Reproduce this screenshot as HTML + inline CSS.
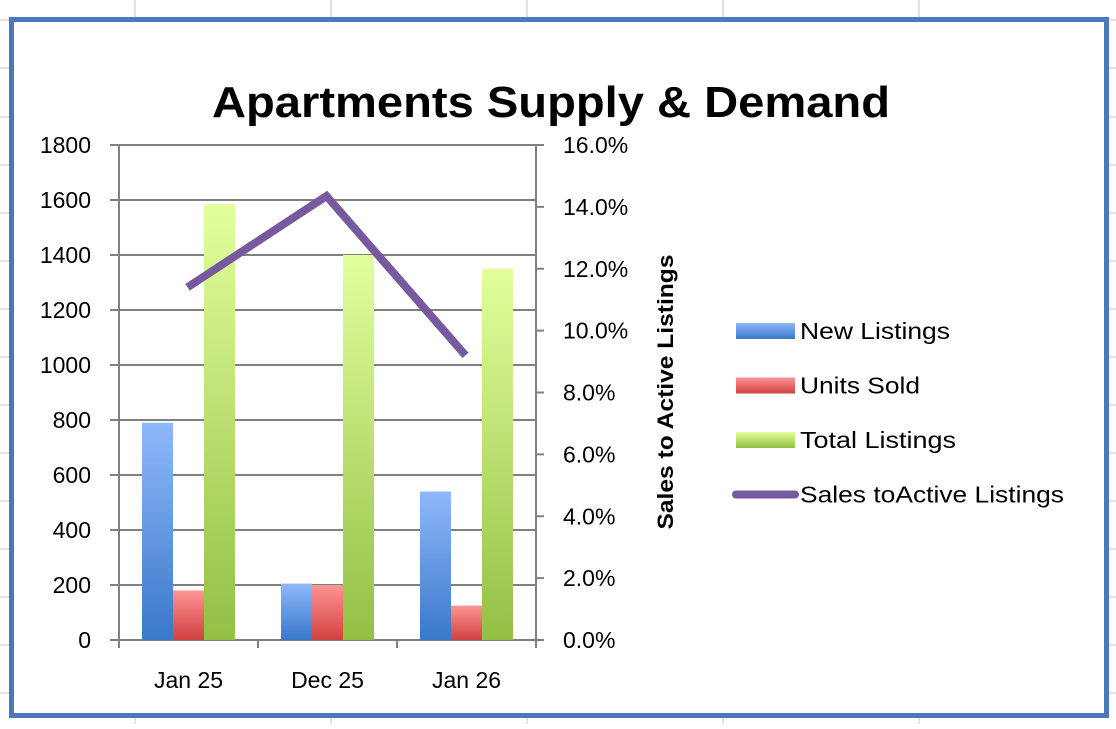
<!DOCTYPE html>
<html><head><meta charset="utf-8"><style>
body{margin:0;width:1116px;height:724px;overflow:hidden;background:#fff;font-family:"Liberation Sans",Calibri,sans-serif}
</style></head><body>
<svg id="c" width="1116" height="724" xmlns="http://www.w3.org/2000/svg">
<defs>
<linearGradient id="gb" x1="0" y1="0" x2="0" y2="1"><stop offset="0" stop-color="#8fb8fb"/><stop offset="1" stop-color="#3a78c9"/></linearGradient>
<linearGradient id="gr" x1="0" y1="0" x2="0" y2="1"><stop offset="0" stop-color="#ff9494"/><stop offset="1" stop-color="#d0413f"/></linearGradient>
<linearGradient id="gg" x1="0" y1="0" x2="0" y2="1"><stop offset="0" stop-color="#e2ff9c"/><stop offset="1" stop-color="#93c045"/></linearGradient>
</defs>
<g id="sheet" stroke="#d9d9d9" stroke-width="1.5"></g>
<rect x="11.5" y="19.5" width="1095" height="696" fill="#fff" stroke="#4a78b8" stroke-width="5"/>
<text x="551" y="117" text-anchor="middle" font-size="44" font-weight="bold" textLength="678" lengthAdjust="spacingAndGlyphs">Apartments Supply &amp; Demand</text>
<g id="plot"></g>
<text transform="translate(673,392) rotate(-90)" text-anchor="middle" font-size="22" font-weight="bold" textLength="275" lengthAdjust="spacingAndGlyphs">Sales to Active Listings</text>
<g id="legend"></g>
</svg>
<script>
const categories=["Jan 25","Dec 25","Jan 26"];
const newListings=[790,205,540];
const unitsSold=[180,200,125];
const totalListings=[1585,1400,1350];
const salesRatio=[11.4,14.35,9.2];
const leftTicks=[0,200,400,600,800,1000,1200,1400,1600,1800];
const rightTicks=["0.0%","2.0%","4.0%","6.0%","8.0%","10.0%","12.0%","14.0%","16.0%"];
const NS="http://www.w3.org/2000/svg";
function mk(p,t,a){const e=document.createElementNS(NS,t);for(const k in a)e.setAttribute(k,a[k]);p.appendChild(e);return e;}
const sheet=document.getElementById('sheet');
[135,331,527,723,919].forEach(x=>mk(sheet,'line',{x1:x,y1:0,x2:x,y2:724}));
[20,68,117,165,213,261,309,357,405,453,501,549,597,645,693].forEach(y=>mk(sheet,'line',{x1:0,y1:y,x2:1116,y2:y}));
const L=119,R=536,T=145,B=640;
const yL=v=>B-(v/1800)*(B-T);
const yR=v=>B-(v/16)*(B-T);
const gw=(R-L)/categories.length;
const plot=document.getElementById('plot');
leftTicks.forEach(v=>{
 const g=mk(plot,'line',{x1:110,y1:yL(v),x2:R,y2:yL(v),stroke:'#808080','stroke-width':2});
 
 
 const t=mk(plot,'text',{x:91,y:yL(v)+8,'text-anchor':'end','font-size':23});
 t.textContent=v;
 
 
});
rightTicks.forEach((s,i)=>{
 mk(plot,'line',{x1:R,y1:yR(i*2),x2:R+8,y2:yR(i*2),stroke:'#808080','stroke-width':2});
 const t=mk(plot,'text',{x:563,y:yR(i*2)+8,'font-size':23});
 t.textContent=s;
 
 
});
mk(plot,'line',{x1:L,y1:T,x2:L,y2:B+8,stroke:'#808080','stroke-width':2});
mk(plot,'line',{x1:R,y1:T,x2:R,y2:B+8,stroke:'#808080','stroke-width':2});
for(let i=0;i<=categories.length;i++)mk(plot,'line',{x1:L+gw*i,y1:B,x2:L+gw*i,y2:B+8,stroke:'#808080','stroke-width':2});
const series=[[newListings,'url(#gb)','bar-new-listings'],[unitsSold,'url(#gr)','bar-units-sold'],[totalListings,'url(#gg)','bar-total-listings']];
const bw=31,off=23;
categories.forEach((c,i)=>{
 series.forEach((s,j)=>{
  const x=L+gw*i+off+bw*j,y=yL(s[0][i]);
  const r=mk(plot,'rect',{x:x,y:y,width:bw,height:B-y,fill:s[1]});
  
  
 });
 const t=mk(plot,'text',{x:L+gw*i+gw/2,y:688,'text-anchor':'middle','font-size':23});
 t.textContent=c;
 
 
});
const pts=salesRatio.map((v,i)=>(L+gw*i+gw/2-1)+','+yR(v)).join(' ');
const pl=mk(plot,'polyline',{points:pts,fill:'none',stroke:'#7759a0','stroke-width':8,'stroke-linejoin':'miter'});


const leg=document.getElementById('legend');
const items=[['url(#gb)','New Listings','legend-new-listings',150],['url(#gr)','Units Sold','legend-units-sold',120],['url(#gg)','Total Listings','legend-total-listings',156],[null,'Sales toActive Listings','legend-sales-ratio',264]];
items.forEach((it,i)=>{
 const y=331+i*54.5;
 const g=mk(leg,'g',{});
 
 
 if(it[0])mk(g,'rect',{x:736,y:y-8,width:59,height:16,fill:it[0]});
 else mk(g,'line',{x1:736,y1:y,x2:795,y2:y,stroke:'#7759a0','stroke-width':8,'stroke-linecap':'round'});
 const t=mk(g,'text',{x:800,y:y+8,'font-size':23,textLength:it[3],lengthAdjust:'spacingAndGlyphs'});
 t.textContent=it[1];
});
</script>
</body></html>
